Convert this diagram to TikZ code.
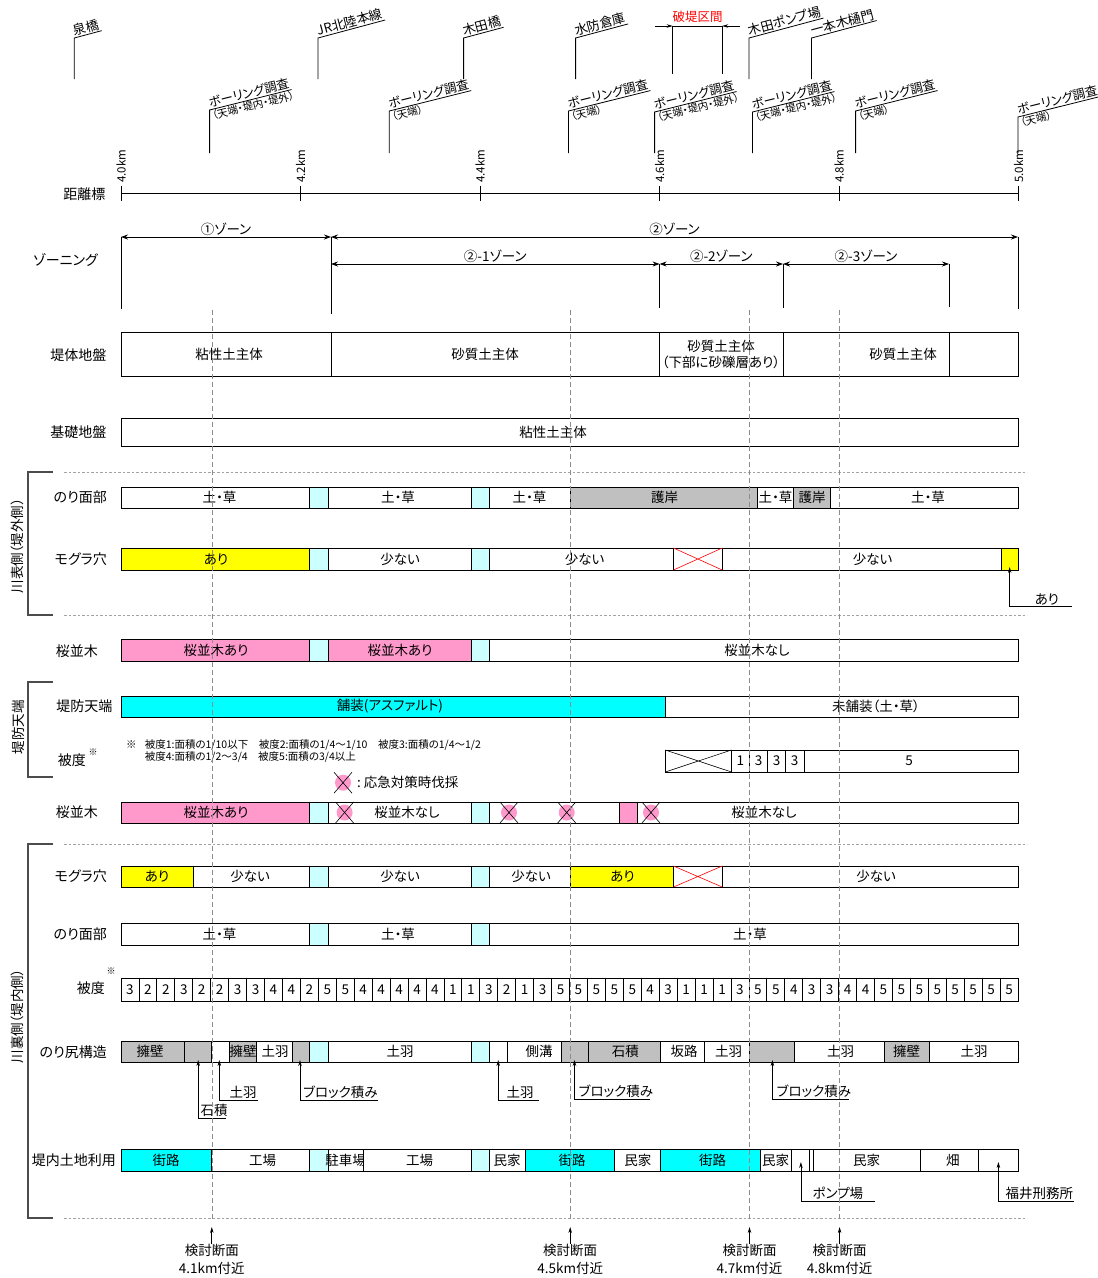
\documentclass[tikz,border=0pt]{standalone}
\usepackage{fontspec}
\setmainfont{Noto Sans CJK JP}[RawFeature=+palt]
\usepackage{tikz}
\usetikzlibrary{arrows.meta}
\definecolor{Mogura}{HTML}{FFFF00}
\definecolor{Hoso}{HTML}{00FFFF}
\definecolor{Hashi}{HTML}{CCFFFF}
\definecolor{Sakura}{HTML}{FF99CC}
\definecolor{Gogan}{HTML}{C0C0C0}
\definecolor{Hatei}{HTML}{FF0000}
\definecolor{Sen}{HTML}{8C8C8C}

\newcommand{\setrow}[2]{\def\yt{#1}\def\yb{#2}\pgfmathsetmacro{\ym}{(#1+#2)/2}}
\newcommand{\seg}[6]{%
  \draw[cell,fill=#4] (#2,\yt) rectangle (#3,\yb);
  \node[celltext] (#1) at (#5,\ym) {#6};}
\newcommand{\segrow}[2]{%
  \foreach \xa/\xb/\fc/\tx/\lab [count=\i] in {#2} {\seg{#1\i}{\xa}{\xb}{\fc}{\tx}{\lab}}}
\newcommand{\redx}[2]{\draw[Hatei,line width=0.6pt] (#1,\yt) -- (#2,\yb) (#1,\yb) -- (#2,\yt);}
\newcommand{\cutmark}[2]{%
  \fill[Sakura] (#1,#2) circle[radius=8];
  \draw[line width=0.6pt] (#1-9,#2-10.5) -- (#1+9,#2+10.5) (#1-9,#2+10.5) -- (#1+9,#2-10.5);}
\newcommand{\landmark}[3]{%
  \node[sitelabel] (#1) at (#2,38) {#3};
  \draw[line width=0.8pt] (#2,79) -- (#1.south west) -- (#1.south east);}
\newcommand{\boring}[4]{%
  \node[boretext] (#1) at (#2,#3) {ボーリング調査};
  \node[subtext] (#1s) at (#2,#3) {#4};
  \draw[line width=0.8pt] (#2,153) -- (#1.south west) -- (#1.south east);}
\newcommand{\callout}[7]{%
  \node[calltext] (#1) at (#5,#4) {#7};
  \coordinate (#1a) at (#2,#3);
  \coordinate (#1e) at (#6,#4);
  \draw[ldr] (#1e) -- (#1a |- #1e) -- (#1a);}

\begin{document}
\begin{tikzpicture}[x=1pt,y=-1pt,
  font=\fontsize{13.5}{16}\selectfont,
  cell/.style={draw=black,line width=0.8pt},
  celltext/.style={inner sep=0pt,align=center},
  rowlabel/.style={font=\fontsize{14}{16}\selectfont,inner sep=0pt,anchor=east},
  sidelabel/.style={font=\fontsize{13.5}{16}\selectfont,rotate=90,inner sep=0pt},
  sitelabel/.style={font=\fontsize{13}{14}\selectfont,inner sep=1pt,anchor=south west,rotate=15},
  boretext/.style={font=\fontsize{12.5}{14}\selectfont,inner sep=1pt,anchor=south west,rotate=14},
  subtext/.style={font=\fontsize{10.5}{12}\selectfont,inner sep=1pt,anchor=north west,rotate=14},
  kmlabel/.style={font=\fontsize{11.5}{13}\selectfont,inner sep=0pt,anchor=west,rotate=90},
  zonetext/.style={above=0pt,inner sep=1pt},
  calltext/.style={font=\fontsize{13.5}{16}\selectfont,inner sep=1.5pt,anchor=south west},
  guide/.style={Sen,dash pattern=on 5pt off 3pt,line width=0.6pt},
  sepline/.style={Sen!80,dash pattern=on 2.5pt off 2pt,line width=0.6pt},
  bracket/.style={black!70,line width=1.1pt},
  zone/.style={{Stealth[length=7pt,width=5pt]}-{Stealth[length=7pt,width=5pt]},line width=0.8pt},
  ldr/.style={-{Stealth[length=6pt,width=3.5pt]},line width=0.7pt}
]
\useasboundingbox (0,0) rectangle (1098,1278);
\fill[white] (0,0) rectangle (1098,1278);

\landmark{izumi}{74.3}{泉橋}
\landmark{jr}{318}{JR北陸本線}
\landmark{kida}{463.6}{木田橋}
\landmark{suibo}{575.6}{水防倉庫}
\landmark{pump}{749}{木田ポンプ場}
\landmark{himon}{811.5}{一本木樋門}

\boring{bo1}{209.6}{110}{（天端・堤内・堤外）}
\boring{bo2}{389.3}{111}{（天端）}
\boring{bo3}{568.5}{111}{（天端）}
\boring{bo4}{654.6}{112}{（天端・堤内・堤外）}
\boring{bo5}{752.5}{112}{（天端・堤内・堤外）}
\boring{bo6}{855.6}{111}{（天端）}
\boring{bo7}{1018}{117}{（天端）}

\coordinate (ha1) at (672.7,74);
\coordinate (ha2) at (722.2,74);
\coordinate (ha1t) at (672.7,26);
\coordinate (ha2t) at (722.2,26);
\coordinate (hal) at (654.6,26);
\coordinate (har) at (740,26);
\node[text=Hatei,font=\fontsize{12.5}{14}\selectfont,inner sep=0pt] (hatei) at (697.5,17) {破堤区間};
\draw[line width=0.8pt] (ha1) -- (ha1t) -- (ha2t) -- (ha2);
\draw[ldr] (hal) -- (ha1t);
\draw[ldr] (har) -- (ha2t);

\draw[line width=0.8pt] (121,193.5) -- (1018.5,193.5);
\foreach \kp [count=\i] in {4.0,4.2,4.4,4.6,4.8,5.0}{
  \pgfmathsetmacro\xk{121+(\i-1)*179.5}
  \draw[line width=0.8pt] (\xk,186) -- (\xk,201);
  \node[kmlabel] (km\i) at (\xk,183) {\kp km};}

\node[rowlabel] (lkm) at (105.5,194) {距離標};
\node[rowlabel] (lzone) at (98,260) {ゾーニング};
\node[rowlabel] (ltai) at (106.5,355) {堤体地盤};
\node[rowlabel] (lkiso) at (106.5,432) {基礎地盤};
\node[rowlabel] (lnori1) at (107,497) {のり面部};
\node[rowlabel] (lmog1) at (107,559) {モグラ穴};
\node[rowlabel] (lsak1) at (98,651) {桜並木};
\node[rowlabel] (lten) at (112.5,706) {堤防天端};
\node[rowlabel] (lhi1) at (86,760) {被度};
\node[font=\fontsize{9}{10}\selectfont,inner sep=0pt] (lhi1n) at (93,752) {※};
\node[rowlabel] (lsak2) at (98,812) {桜並木};
\node[rowlabel] (lmog2) at (107,876) {モグラ穴};
\node[rowlabel] (lnori2) at (107,934) {のり面部};
\node[rowlabel] (lhi2) at (105,988) {被度};
\node[font=\fontsize{9}{10}\selectfont,inner sep=0pt] (lhi2n) at (111,971) {※};
\node[rowlabel] (ljiri) at (107,1052) {のり尻構造};
\node[rowlabel] (lriyo) at (116,1160) {堤内土地利用};

\node[sidelabel] (side1) at (17.5,546) {川表側（堤外側）};
\node[sidelabel] (side2) at (18,727) {堤防天端};
\node[sidelabel] (side3) at (17.5,1016) {川裏側（堤内側）};
\draw[bracket] (53,472) -- (28,472) -- (28,615) -- (53,615);
\draw[bracket] (53,682) -- (28,682) -- (28,777) -- (53,777);
\draw[bracket] (53,844) -- (28,844) -- (28,1218) -- (53,1218);
\foreach \sy in {472.3,615,844.3,1218} \draw[sepline] (64,\sy) -- (1027,\sy);

\coordinate (z0) at (121,237);
\coordinate (z1) at (331,237);
\coordinate (z2) at (1018,237);
\coordinate (s2) at (659.6,264);
\coordinate (s3) at (783,264);
\coordinate (s4) at (949,264);
\coordinate (s1) at (331,264);
\draw[zone] (z0) -- node[zonetext] (zn1) {①ゾーン} (z1);
\draw[zone] (z1) -- node[zonetext] (zn2) {②ゾーン} (z2);
\draw[zone] (s1) -- node[zonetext] (zn21) {②-1ゾーン} (s2);
\draw[zone] (s2) -- node[zonetext] (zn22) {②-2ゾーン} (s3);
\draw[zone] (s3) -- node[zonetext] (zn23) {②-3ゾーン} (s4);
\draw[line width=0.8pt] (z0) -- ++(0,72) (z1) -- ++(0,77) (z2) -- ++(0,72)
  (s2) -- ++(0,44) (s3) -- ++(0,44) (s4) -- ++(0,43);

\setrow{332}{376}
\segrow{tai}{121/331/white/229/粘性土主体, 331/659.6/white/485/砂質土主体,
  659.6/783/white/721/{砂質土主体\\（下部に砂礫層あり）}, 783/949/white/903/砂質土主体, 949/1018/white/983/{}}

\setrow{418}{446}
\segrow{kiso}{121/1018/white/553/粘性土主体}

\setrow{487}{508}
\segrow{nmo}{121/309/white/219.6/土・草, 309/328/Hashi/318.5/{}, 328/471/white/398/土・草,
  471/489/Hashi/480/{}, 489/570/white/529.5/土・草, 570/757.8/Gogan/664.5/護岸,
  757.8/793.4/white/775.6/土・草, 793.4/830.7/Gogan/812/護岸, 830.7/1018/white/928/土・草}

\setrow{548}{570}
\segrow{mmo}{121/309/Mogura/216/あり, 309/328/Hashi/318.5/{}, 328/471/white/400/少ない,
  471/489/Hashi/480/{}, 489/673.5/white/584.5/少ない, 673.5/722.2/white/698/{},
  722.2/1001/white/872.7/少ない, 1001/1018/Mogura/1009.5/{}}
\redx{673.5}{722.2}

\setrow{639}{661}
\segrow{smo}{121/309/Sakura/216/桜並木あり, 309/328/Hashi/318.5/{}, 328/471/Sakura/400/桜並木あり,
  471/489/Hashi/480/{}, 489/1018/white/757/桜並木なし}

\setrow{696}{717}
\segrow{ten}{121/665.3/Hoso/390/舗装(アスファルト), 665.3/1018/white/876/未舗装（土・草）}

\node[font=\fontsize{10.5}{12.7}\selectfont,inner sep=0pt,anchor=west] (note0) at (126,745) {※};
\node[font=\fontsize{10.5}{12.7}\selectfont,inner sep=0pt,anchor=north west,align=left] (note) at (144.6,739)
  {被度1:面積の1/10以下\quad 被度2:面積の1/4～1/10\quad 被度3:面積の1/4～1/2\\被度4:面積の1/2～3/4\quad 被度5:面積の3/4以上};

\setrow{750}{772}
\segrow{hte}{665.3/731.5/white/698/{}, 731.5/749.3/white/740.4/1, 749.3/767.8/white/758.5/3,
  767.8/785.5/white/776.6/3, 785.5/804/white/794.7/3, 804/1018/white/909/5}
\draw[line width=0.6pt] (665.3,750) -- (731.5,772) (665.3,772) -- (731.5,750);

\cutmark{343}{782.7}
\node[font=\fontsize{13.5}{16}\selectfont,anchor=west,inner sep=0pt] (legend) at (357,782.7) {:\ 応急対策時伐採};

\setrow{802}{823}
\segrow{sur}{121/309/Sakura/216/桜並木あり, 309/328/Hashi/318.5/{}, 328/471/white/407/桜並木なし,
  471/489/Hashi/480/{}, 489/619/white/554/{}, 619/637/Sakura/628/{}, 637/1018/white/764/桜並木なし}
\foreach \cx in {344.6,509,566.7,651} {\cutmark{\cx}{\ym}}

\setrow{866}{887}
\segrow{mur}{121/193/Mogura/157/あり, 193/309/white/250/少ない, 309/328/Hashi/318.5/{},
  328/471/white/400/少ない, 471/489/Hashi/480/{}, 489/570/white/531/少ない,
  570/673.5/Mogura/622.6/あり, 673.5/722.2/white/698/{}, 722.2/1018/white/876/少ない}
\redx{673.5}{722.2}

\setrow{923}{945}
\segrow{nur}{121/309/white/219.6/土・草, 309/328/Hashi/318.5/{}, 328/471/white/398/土・草,
  471/489/Hashi/480/{}, 489/1018/white/750/土・草}

\setrow{978}{1001}
\foreach \v [count=\i] in {3,2,2,3,2,2,3,3,4,4,2,5,5,4,4,4,4,4,1,1,3,2,1,3,5,
  5,5,5,5,4,3,1,1,1,3,5,5,4,3,3,4,4,5,5,5,5,5,5,5,5}{
  \pgfmathsetmacro\xa{121+(\i-1)*17.94}
  \pgfmathsetmacro\xb{121+\i*17.94}
  \pgfmathsetmacro\xc{121+(\i-0.5)*17.94}
  \draw[cell] (\xa,\yt) rectangle (\xb,\yb);
  \node[celltext] (hur\i) at (\xc,\ym) {\v};}

\setrow{1041}{1062}
\segrow{jiri}{121/184.6/Gogan/150/擁壁, 184.6/211.8/Gogan/198/{}, 211.8/229.3/white/220/{},
  229.3/256.4/Gogan/243/擁壁, 256.4/292/white/275/土羽, 292/309/Gogan/300/{},
  309/328/Hashi/318.5/{}, 328/471/white/400/土羽, 471/489/Hashi/480/{},
  489/507/white/498/{}, 507/561.4/white/539/側溝, 561.4/588/Gogan/575/{},
  588/660.3/Gogan/625.4/石積, 660.3/704.8/white/684/坂路, 704.8/749.3/white/728.6/土羽,
  749.3/794.8/Gogan/772/{}, 794.8/884.5/white/840.7/土羽, 884.5/929/Gogan/906.5/擁壁,
  929/1018/white/974/土羽}

\setrow{1149}{1171}
\segrow{riyo}{121/211.8/Hoso/166/街路, 211.8/309/white/262.5/工場, 309/328/Hashi/318.5/{},
  328/363.6/white/345.7/駐車場, 363.6/471/white/419.6/工場, 471/489/Hashi/480/{},
  489/525/white/507/民家, 525/614.7/Hoso/572/街路, 614.7/660.3/white/637.9/民家,
  660.3/760/Hoso/712.6/街路, 760/791.6/white/775.6/民家, 791.6/809.4/white/800/{},
  809.4/813.3/white/811/{}, 813.3/920/white/866.7/民家, 920/978.4/white/952.8/畑,
  978.4/1018/white/998/{}}

\callout{cb1}{198.2}{1060}{1118.3}{199}{226}{石積}
\callout{cb2}{219.3}{1060}{1100}{228}{258}{土羽}
\callout{cb3}{300}{1060}{1100}{301.5}{378}{ブロック積み}
\callout{cb4}{498.2}{1060}{1100}{505}{538.6}{土羽}
\callout{cb5}{574.5}{1060}{1099.3}{577}{650.3}{ブロック積み}
\callout{cb6}{772.4}{1060}{1099.3}{775}{849}{ブロック積み}
\callout{cr1}{800.9}{1162}{1201}{811}{874.5}{ポンプ場}
\callout{cr2}{998.4}{1162}{1201}{1004}{1073.8}{福井刑務所}
\callout{cm1}{1009.7}{567}{606.7}{1033}{1072}{あり}

\foreach \gx in {211.8,570.2,749.5,839.6} \draw[guide] (\gx,310) -- (\gx,1220);

\foreach \gx/\kv [count=\i] in {211.8/4.1,570.2/4.5,749.5/4.7,839.6/4.8}{
  \node[font=\fontsize{13.5}{18}\selectfont,inner sep=0pt,anchor=north,align=center] (st\i) at (\gx,1244) {検討断面\\\kv km付近};
  \coordinate (stt\i) at (\gx,1227);
  \draw[ldr] (st\i.north) -- (stt\i);}
\end{tikzpicture}
\end{document}
